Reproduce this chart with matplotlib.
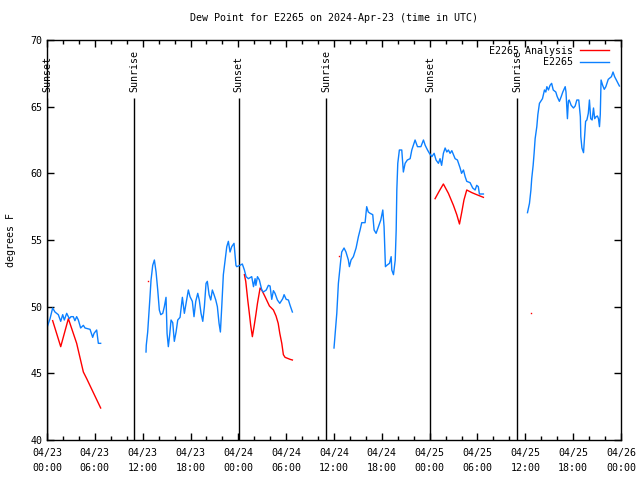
import numpy as np
import matplotlib
matplotlib.use("Agg")
import matplotlib.pyplot as plt
from matplotlib.ticker import MultipleLocator

nan = np.nan

# hours since 2024-04-23 00:00 UTC, dew point in degrees F
obs_hours = [0.04, 0.38, 0.71, 1.0, 1.42, 1.72, 1.97, 2.17, 2.47, 2.8, 3.0, 3.3, 3.5, 3.72, 3.93,
             4.22, 4.56, 4.77, 5.4, 5.73, 5.9, 6.23, 6.44, 6.73, nan,
             12.42, 12.45, 12.63, 12.76, 12.92, 13.05, 13.26, 13.47, 13.68, 13.89, 14.09, 14.27,
             14.52, 14.72, 14.93, 15.06, 15.22, 15.39, 15.56, 15.77, 15.97, 16.19, 16.4, 16.69,
             16.98, 17.23, 17.44, 17.73, 17.94, 18.23, 18.44, 18.66, 18.91, 19.1, 19.32, 19.54,
             19.74, 19.95, 20.11, 20.33, 20.54, 20.74, 20.95, 21.17, 21.37, 21.58, 21.75, 21.92,
             22.12, 22.33, 22.55, 22.75, 22.96, 23.17, 23.46, 23.7, 23.8, 24.2, 24.5, 24.76,
             24.97, 25.26, 25.68, 25.9, 26.1, 26.2, 26.4, 26.64, 26.94, 27.14, 27.5, 27.77,
             27.98, 28.19, 28.4, 28.6, 28.9, 29.2, 29.57, 29.74, 30.0, 30.28, 30.49, 30.78, nan,
             36.0, 36.35, 36.55, 36.85, 36.97, 37.26, 37.5, 37.8, 37.93, 38.14, 38.43, 38.77,
             39.06, 39.27, 39.48, 39.9, 40.1, 40.3, 40.53, 40.86, 41.03, 41.28, 41.57, 41.87,
             42.12, 42.28, 42.45, 42.62, 42.96, 43.17, 43.25, 43.46, 43.68, 43.8, 43.88, 44.0,
             44.2, 44.5, 44.7, 44.92, 45.2, 45.55, 45.76, 46.17, 46.47, 46.9, 47.22, 47.44,
             47.73, 47.97, 48.27, 48.56, 48.8, 49.1, 49.3, 49.5, 49.72, 49.94, 50.15, 50.35,
             50.56, 50.78, 50.98, 51.19, 51.48, 51.82, 52.0, 52.24, 52.45, 52.65, 53.07, 53.4,
             53.7, 53.9, 54.1, 54.24, 54.74, nan,
             60.27, 60.52, 60.7, 60.8, 60.98, 61.1, 61.23, 61.44, 61.57, 61.77, 61.94, 62.15,
             62.4, 62.57, 62.7, 62.9, 63.1, 63.3, 63.5, 63.82, 64.0, 64.27, 64.5, 64.7, 65.0,
             65.1, 65.28, 65.4, 65.5, 65.75, 66.04, 66.25, 66.46, 66.7, 66.9, 66.96, 67.1,
             67.3, 67.4, 67.56, 67.72, 67.9, 68.04, 68.2, 68.38, 68.55, 68.7, 68.88, 69.04,
             69.17, 69.3, 69.4, 69.5, 69.7, 69.9, 70.1, 70.4, 70.8, 71.0, 71.2, 71.5, 71.8]
obs_dewpt = [48.5, 49.1, 49.9, 49.6, 49.4, 48.9, 49.4, 49.0, 49.5, 49.1, 49.25, 49.25, 48.95, 49.25, 49.0,
             48.4, 48.6, 48.4, 48.3, 47.7, 48.0, 48.25, 47.25, 47.25, nan,
             46.6, 47.1, 48.1, 49.25, 50.75, 52.0, 53.1, 53.5, 52.6, 51.25, 49.75, 49.4,
             49.5, 50.0, 50.7, 48.0, 47.0, 47.9, 49.0, 48.8, 47.4, 48.1, 49.0, 49.2,
             50.7, 49.5, 50.25, 51.25, 50.75, 50.4, 49.25, 50.4, 51.0, 50.5, 49.5, 48.9,
             50.0, 51.75, 51.9, 50.9, 50.5, 51.25, 50.9, 50.5, 50.0, 48.75, 48.1, 50.0,
             52.4, 53.4, 54.5, 54.9, 54.1, 54.5, 54.75, 53.1, 53.0, 53.1, 53.2, 52.75,
             52.25, 52.1, 52.25, 51.5, 52.1, 51.6, 52.25, 52.0, 51.25, 51.1, 51.25, 51.6,
             51.55, 50.55, 51.2, 51.0, 50.5, 50.25, 50.6, 50.9, 50.55, 50.5, 50.1, 49.6, nan,
             46.9, 49.5, 51.75, 53.5, 54.1, 54.4, 54.1, 53.5, 53.0, 53.5, 53.75, 54.4,
             55.25, 55.75, 56.3, 56.3, 57.5, 57.1, 57.0, 56.9, 55.75, 55.5, 56.0, 56.5,
             57.25, 56.0, 53.0, 53.1, 53.25, 53.75, 52.75, 52.4, 53.5, 55.75, 58.75, 60.75,
             61.75, 61.75, 60.1, 60.75, 61.0, 61.1, 61.75, 62.5, 62.0, 62.0, 62.5, 62.1,
             61.75, 61.5, 61.25, 61.5, 61.0, 60.75, 61.1, 60.6, 61.5, 61.9, 61.6, 61.75,
             61.5, 61.7, 61.4, 61.1, 61.0, 60.4, 60.0, 60.25, 59.75, 59.4, 59.3, 58.9,
             58.75, 59.1, 59.0, 58.45, 58.45, nan,
             57.05, 57.75, 58.75, 59.6, 60.6, 61.5, 62.6, 63.5, 64.4, 65.25, 65.4, 65.6,
             66.25, 66.1, 66.5, 66.25, 66.6, 66.75, 66.25, 66.1, 65.75, 65.4, 65.75, 66.1, 66.5,
             66.1, 64.1, 65.4, 65.5, 65.1, 64.9, 65.05, 65.5, 65.5, 64.25, 62.75, 61.9,
             61.55, 62.5, 63.9, 64.0, 64.5, 65.5, 64.1, 64.0, 64.9, 64.1, 64.25, 64.3,
             64.1, 63.5, 64.4, 67.0, 66.6, 66.3, 66.5, 67.05, 67.25, 67.6, 67.25, 66.9, 66.55]

ana_hours = [0.71, 1.72, 2.68, 3.72, 4.56, 4.98, 6.73, nan,
             24.76, 24.93, 25.18, 25.38, 25.55, 25.76, 25.97, 26.2, 26.4, 26.73, 26.94, 27.35,
             27.9, 28.4, 28.73, 29.0, 29.2, 29.45, 29.65, 29.86, 30.49, 30.78, nan,
             48.68, 49.23, 49.72, 50.35, 50.98, 51.4, 51.74, 52.03, 52.3, 52.65, 53.3, 53.9, 54.74]
ana_dewpt = [48.95, 47.0, 49.1, 47.25, 45.1, 44.6, 42.4, nan,
             52.4, 51.9, 50.5, 49.5, 48.6, 47.75, 48.5, 49.4, 50.25, 51.4, 51.25, 50.75,
             50.05, 49.75, 49.3, 48.75, 48.0, 47.25, 46.4, 46.2, 46.05, 46.0, nan,
             58.1, 58.7, 59.2, 58.5, 57.6, 56.9, 56.2, 57.1, 58.0, 58.75, 58.55, 58.4, 58.2]
# lone analysis values with no neighbours
ana_lone_hours = [12.71, 36.64, 60.73]
ana_lone_dewpt = [51.9, 53.8, 49.5]

sun_hours = [0.05, 10.95, 24.05, 35.05, 48.1, 59.0]
sun_names = ["Sunset", "Sunrise", "Sunset", "Sunrise", "Sunset", "Sunrise"]

tick_hours = list(range(0, 73, 6))
tick_labels = ["04/23\n00:00", "04/23\n06:00", "04/23\n12:00", "04/23\n18:00",
               "04/24\n00:00", "04/24\n06:00", "04/24\n12:00", "04/24\n18:00",
               "04/25\n00:00", "04/25\n06:00", "04/25\n12:00", "04/25\n18:00",
               "04/26\n00:00"]

font = "DejaVu Sans Mono"
fs = 7.2
red = "#ff0000"
blue = "#0c80ff"

fig = plt.figure(figsize=(6.4, 4.8), dpi=100)
ax = fig.add_axes([47 / 640, 40 / 480, 574 / 640, 400 / 480])

for h, name in zip(sun_hours, sun_names):
    ax.vlines(h, 40, 65.65, color="black", lw=1.0)
    ax.text(h, 66.1, name, rotation=90, ha="center", va="bottom",
            fontsize=fs, family=font)

ax.plot(ana_hours, ana_dewpt, color=red, lw=1.0, label="E2265 Analysis")
ax.plot(obs_hours, obs_dewpt, color=blue, lw=1.0, label="E2265")
ax.plot(ana_lone_hours, ana_lone_dewpt, ls="none", marker="s", ms=1.0,
        color=red, mew=0)

ax.set_xlim(0, 72)
ax.set_ylim(40, 70)
ax.set_xticks(tick_hours)
ax.set_xticklabels(tick_labels, family=font, fontsize=fs, linespacing=1.6)
ax.xaxis.set_minor_locator(MultipleLocator(2))
ax.set_yticks(range(40, 71, 5))
ax.set_yticklabels([str(v) for v in range(40, 71, 5)], family=font, fontsize=fs)
ax.tick_params(which="both", direction="in", top=True, right=True, width=1.0)
ax.tick_params(which="major", length=5)
ax.tick_params(which="minor", length=3)
ax.tick_params(axis="x", pad=6)
for s in ax.spines.values():
    s.set_linewidth(1.0)

ax.set_title("Dew Point for E2265 on 2024-Apr-23 (time in UTC)",
             family=font, fontsize=fs, pad=14)
ax.set_ylabel("degrees F", family=font, fontsize=fs, labelpad=10)

leg = ax.legend(loc="upper right", bbox_to_anchor=(1 - 8 / 574, 1 - 2 / 400),
                frameon=False, markerfirst=False,
                prop={"family": font, "size": fs}, handlelength=2.9,
                borderaxespad=0.0, labelspacing=0.15, handletextpad=0.7)
for t in leg.get_texts():
    t.set_ha("right")

fig.savefig("out.png", dpi=100)
